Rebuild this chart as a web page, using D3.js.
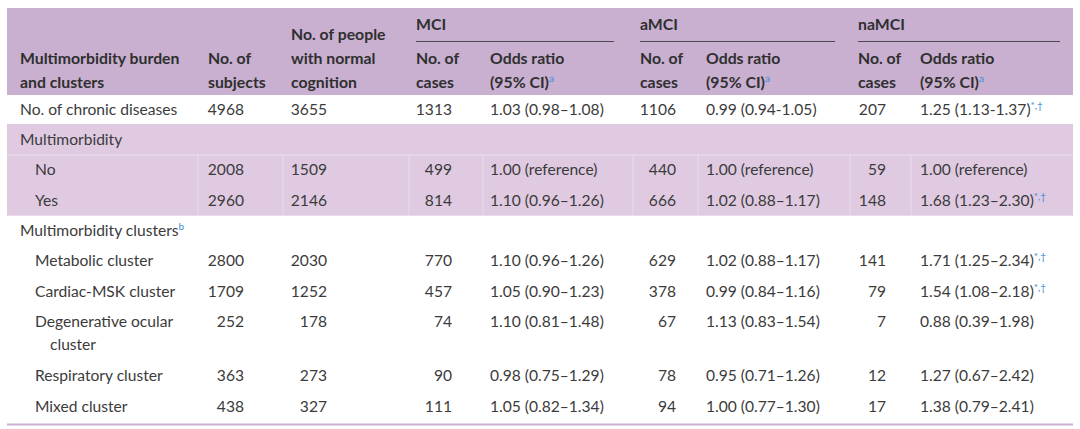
<!DOCTYPE html>
<html>
<head>
<meta charset="utf-8">
<script src="https://cdn.jsdelivr.net/npm/d3@7"></script>
<style>
  html, body { margin: 0; padding: 0; background: #ffffff; }
  svg { display: block; }
  text { font-family: Lato, "Open Sans", sans-serif; }
</style>
</head>
<body>
<svg id="chart" width="1080" height="429"></svg>
<script>
// ---------- DATA ----------
const groupLabels = ["MCI", "aMCI", "naMCI"];
const headerLines = {
  label: ["Multimorbidity burden", "and clusters"],
  subjects: ["No. of", "subjects"],
  normal: ["No. of people", "with normal", "cognition"],
  mciN: ["No. of", "cases"],
  mciOR: ["Odds ratio", "(95% CI)"],
  amciN: ["No. of", "cases"],
  amciOR: ["Odds ratio", "(95% CI)"],
  namciN: ["No. of", "cases"],
  namciOR: ["Odds ratio", "(95% CI)"]
};
const headerSup = { mciOR: "a", amciOR: "a", namciOR: "a" };

const rowLabels = ["No. of chronic diseases", "Multimorbidity", "No", "Yes", "Multimorbidity clusters",
  "Metabolic cluster", "Cardiac-MSK cluster", "Degenerative ocular\ncluster", "Respiratory cluster", "Mixed cluster"];
const rowLevel = [0, 0, 1, 1, 0, 1, 1, 1, 1, 1];
const rowSection = [0, 1, 1, 1, 2, 2, 2, 2, 2, 2];
const labelSup = ["", "", "", "", "b", "", "", "", "", ""];
const subjects = [4968, null, 2008, 2960, null, 2800, 1709, 252, 363, 438];
const normalCognition = [3655, null, 1509, 2146, null, 2030, 1252, 178, 273, 327];
const mciCases = [1313, null, 499, 814, null, 770, 457, 74, 90, 111];
const mciOR = ["1.03 (0.98–1.08)", null, "1.00 (reference)", "1.10 (0.96–1.26)", null,
  "1.10 (0.96–1.26)", "1.05 (0.90–1.23)", "1.10 (0.81–1.48)", "0.98 (0.75–1.29)", "1.05 (0.82–1.34)"];
const amciCases = [1106, null, 440, 666, null, 629, 378, 67, 78, 94];
const amciOR = ["0.99 (0.94-1.05)", null, "1.00 (reference)", "1.02 (0.88–1.17)", null,
  "1.02 (0.88–1.17)", "0.99 (0.84–1.16)", "1.13 (0.83–1.54)", "0.95 (0.71–1.26)", "1.00 (0.77–1.30)"];
const namciCases = [207, null, 59, 148, null, 141, 79, 7, 12, 17];
const namciOR = ["1.25 (1.13-1.37)", null, "1.00 (reference)", "1.68 (1.23–2.30)", null,
  "1.71 (1.25–2.34)", "1.54 (1.08–2.18)", "0.88 (0.39–1.98)", "1.27 (0.67–2.42)", "1.38 (0.79–2.41)"];
const namciSig = ["*,†", null, "", "*,†", null, "*,†", "*,†", "", "", ""];

// ---------- LAYOUT ----------
const svg = d3.select("#chart");
const colKeys = ["label", "subjects", "normal", "mciN", "mciOR", "amciN", "amciOR", "namciN", "namciOR"];
const colValues = {
  subjects: subjects, normal: normalCognition, mciN: mciCases, mciOR: mciOR,
  amciN: amciCases, amciOR: amciOR, namciN: namciCases, namciOR: namciOR
};
// left edge of each column (header anchor)
const xLeft = d3.scaleOrdinal().domain(colKeys).range([20, 208, 291, 416, 490, 640, 706, 858, 920]);
// right edge used for right-aligned numeric columns
const xRight = d3.scaleOrdinal().domain(["subjects", "normal", "mciN", "amciN", "namciN"])
  .range([244, 327, 452, 676, 886]);
const numericCols = new Set(["subjects", "normal", "mciN", "amciN", "namciN"]);
const groupSpan = d3.scaleOrdinal().domain(groupLabels).range([[416, 614], [640, 835], [858, 1060]]);

const FS = 15.6;
const HFS = 15.8;
const textCol = "#3b3b3b";
const headCol = "#2f2f2f";
const supCol = "#3a8dd6";
const headBg = "#c9b0d1";
const secBg = "#dfcae2";

// row units (wrapped labels take extra space)
const nLines = rowLabels.map(l => l.split("\n").length);
const units = [];
let acc = 0;
rowLabels.forEach((l, i) => { units.push(acc); acc += 1 + (nLines[i] - 1) * 0.77; });
const y = d3.scaleLinear().domain([0, 9.77]).range([114.5, 411.5]); // baselines

// header background
svg.append("rect").attr("x", 7).attr("y", 8).attr("width", 1066).attr("height", 87).attr("fill", headBg);

// shaded section (Multimorbidity)
const secIdx = d3.range(rowLabels.length).filter(i => rowSection[i] === 1);
const secTop = y(units[secIdx[0]]) - 21;
const secBot = y(units[secIdx[secIdx.length - 1]]) + 10;
svg.append("rect").attr("x", 7).attr("y", secTop).attr("width", 1066).attr("height", secBot - secTop).attr("fill", secBg);
// faint cell separators inside shaded section
const sepMid = (y(units[secIdx[0]]) + y(units[secIdx[1]])) / 2 - 5;
const sepX = [198, 283, 409, 483, 633, 698, 850, 911];
svg.append("g").selectAll("line").data(sepX).join("line")
  .attr("x1", d => d).attr("x2", d => d)
  .attr("y1", sepMid).attr("y2", secBot)
  .attr("stroke", "#ffffff").attr("stroke-opacity", 0.35).attr("stroke-width", 1);
svg.append("line").attr("x1", 7).attr("x2", 1073).attr("y1", sepMid).attr("y2", sepMid)
  .attr("stroke", "#ffffff").attr("stroke-opacity", 0.35);

// header group labels and underlines
const hg = svg.append("g");
hg.selectAll("text.grp").data(groupLabels).join("text")
  .attr("class", "grp")
  .attr("x", d => groupSpan(d)[0]).attr("y", 29.5)
  .attr("font-size", HFS).attr("font-weight", 700).attr("fill", headCol)
  .text(d => d);
hg.selectAll("line.grp").data(groupLabels).join("line")
  .attr("x1", d => groupSpan(d)[0]).attr("x2", d => groupSpan(d)[1])
  .attr("y1", 41.5).attr("y2", 41.5)
  .attr("stroke", "#4a4a4a").attr("stroke-width", 1.2);

// header column titles (bottom aligned)
const headBase = 87.5, headLH = 24;
colKeys.forEach(k => {
  const lines = headerLines[k];
  const t = hg.append("text")
    .attr("font-size", HFS).attr("font-weight", 700).attr("fill", headCol);
  lines.forEach((ln, j) => {
    t.append("tspan")
      .attr("x", xLeft(k))
      .attr("y", headBase - (lines.length - 1 - j) * headLH)
      .text(ln);
    if (j === lines.length - 1 && headerSup[k]) {
      t.append("tspan").attr("dy", -6).attr("font-size", 10).attr("font-weight", 400)
        .attr("fill", supCol).text(headerSup[k]);
    }
  });
});

// body rows
const body = svg.append("g");
rowLabels.forEach((lab, i) => {
  const by = y(units[i]);
  const lines = lab.split("\n");
  const lx = xLeft("label") + rowLevel[i] * 15;
  const t = body.append("text").attr("font-size", FS).attr("fill", textCol);
  lines.forEach((ln, j) => {
    t.append("tspan").attr("x", lx + (j > 0 ? 15 : 0)).attr("y", by + j * 23).text(ln);
  });
  if (labelSup[i]) {
    t.append("tspan").attr("dy", -6).attr("font-size", 10).attr("fill", supCol).text(labelSup[i]);
  }
  colKeys.slice(1).forEach(k => {
    const v = colValues[k][i];
    if (v === null || v === undefined) return;
    const isNum = numericCols.has(k);
    const tt = body.append("text")
      .attr("x", isNum ? xRight(k) : xLeft(k))
      .attr("y", by)
      .attr("text-anchor", isNum ? "end" : "start")
      .attr("font-size", FS).attr("fill", textCol)
      .text(isNum ? d3.format("d")(v) : v);
    if (k === "namciOR" && namciSig[i]) {
      tt.append("tspan").attr("dy", -6).attr("font-size", 10).attr("fill", supCol).text(namciSig[i]);
    }
  });
});

// bottom rule
svg.append("line").attr("x1", 7).attr("x2", 1073).attr("y1", 424.5).attr("y2", 424.5)
  .attr("stroke", headBg).attr("stroke-width", 2);
</script>
</body>
</html>
